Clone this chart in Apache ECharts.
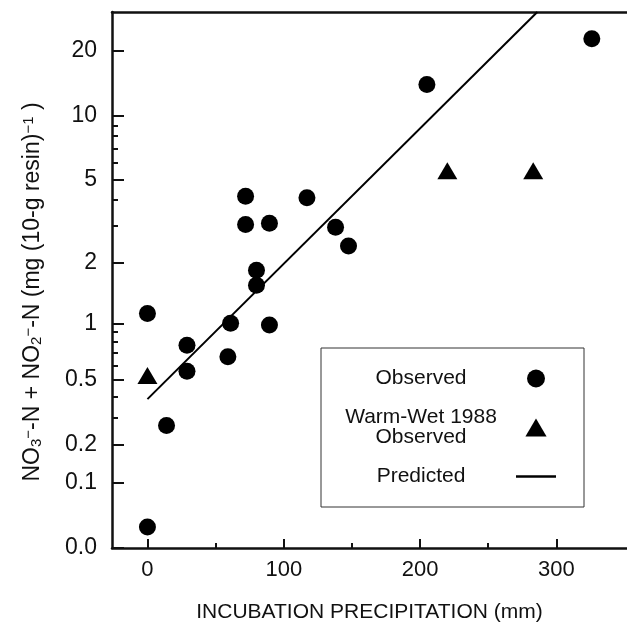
<!DOCTYPE html>
<html>
<head>
<meta charset="utf-8">
<script src="https://cdn.jsdelivr.net/npm/echarts@6/dist/echarts.min.js"></script>
<style>
  html, body { margin: 0; padding: 0; background: #fff; }
  #chart { width: 627px; height: 629px; }
</style>
</head>
<body>
<div id="chart"></div>
<script>
// observed points (incubation precipitation mm, NO3-N + NO2-N)
var obsX = [0, 0, 14, 29, 29, 59, 61, 72, 72, 80, 80, 89.5, 89.5, 117, 138, 147.5, 205, 326];
var obsY = [1.12, 0.025, 0.27, 0.77, 0.56, 0.67, 1.0, 4.17, 3.06, 1.84, 1.55, 3.1, 0.98, 4.1, 2.97, 2.41, 13.96, 22.8];
// warm-wet 1988
var wetX = [0, 220, 283];
var wetY = [0.53, 5.5, 5.5];
// predicted line ends
var predX = [0, 286];
var predY = [0.39, 30.4];

var yTicks = [0, 0.1, 0.2, 0.5, 1, 2, 5, 10, 20];
var yTickLabels = ['0.0', '0.1', '0.2', '0.5', '1', '2', '5', '10', '20'];
var yMinor = [0.3, 0.4, 0.6, 0.7, 0.8, 0.9, 3, 4, 6, 7, 8, 9];
var xTicks = [0, 100, 200, 300];
var xMinor = [50, 150, 250];

// axis is log10(y + 0.1)
function tf(v) { return Math.log10(v + 0.1); }
function pairs(xs, ys) {
  return xs.map(function (x, i) { return [x, tf(ys[i])]; });
}

var FONT = 'Liberation Sans';
var chart = echarts.init(document.getElementById('chart'));

var yMin = tf(0), yMax = tf(30.4);

var option = {
  animation: false,
  backgroundColor: '#fff',
  textStyle: { fontFamily: FONT },
  grid: { left: 112, top: 12, right: 0, bottom: 81 },
  xAxis: [{
    type: 'value', min: -26, max: 351.8,
    name: 'INCUBATION PRECIPITATION (mm)',
    nameLocation: 'middle', nameGap: 54,
    nameTextStyle: { fontFamily: FONT, fontSize: 21, color: '#111' },
    splitLine: { show: false },
    axisLine: { onZero: false, lineStyle: { color: '#111', width: 2.5 } },
    axisTick: { inside: true, length: 9, customValues: xTicks, lineStyle: { color: '#111', width: 2 } },
    axisLabel: { customValues: xTicks, margin: 11, fontSize: 22, color: '#111', fontFamily: FONT }
  }, {
    type: 'value', min: -26, max: 351.8, position: 'bottom',
    splitLine: { show: false }, axisLine: { show: false, onZero: false }, axisLabel: { show: false },
    axisTick: { inside: true, length: 5, customValues: xMinor, lineStyle: { color: '#111', width: 2 } }
  }, {
    type: 'value', min: -26, max: 351.8, position: 'top',
    splitLine: { show: false }, axisLabel: { show: false }, axisTick: { show: false },
    axisLine: { onZero: false, lineStyle: { color: '#111', width: 2.5 } }
  }],
  yAxis: [{
    type: 'value', min: yMin, max: yMax,
    splitLine: { show: false },
    axisLine: { onZero: false, lineStyle: { color: '#111', width: 2.5 } },
    axisTick: { inside: true, length: 12, customValues: yTicks.map(tf), lineStyle: { color: '#111', width: 2 } },
    axisLabel: {
      customValues: yTicks.map(tf), margin: 15, fontSize: 23, color: '#111', fontFamily: FONT,
      formatter: function (val) {
        var best = 0;
        for (var i = 0; i < yTicks.length; i++) {
          if (Math.abs(tf(yTicks[i]) - val) < Math.abs(tf(yTicks[best]) - val)) best = i;
        }
        return yTickLabels[best];
      }
    }
  }, {
    type: 'value', min: yMin, max: yMax, position: 'left',
    splitLine: { show: false }, axisLine: { show: false, onZero: false }, axisLabel: { show: false },
    axisTick: { inside: true, length: 6, customValues: yMinor.map(tf), lineStyle: { color: '#111', width: 2 } }
  }],
  legend: {
    left: 321, top: 348,
    orient: 'vertical', align: 'right',
    padding: [20, 28, 20, 10],
    itemGap: 18, itemWidth: 40, itemHeight: 18,
    borderColor: '#333', borderWidth: 1,
    selectedMode: false,
    symbolKeepAspect: true,
    data: [
      { name: 'Observed', icon: 'circle' },
      { name: 'Warm-Wet 1988\nObserved', icon: 'path://M10,0L20,17L0,17Z' },
      { name: 'Predicted', icon: 'path://M0,0H40V2.4H0Z' }
    ],
    itemStyle: { color: '#000' },
    formatter: function (name) {
      return name.split('\n').map(function (s) { return '{c|' + s + '}'; }).join('\n');
    },
    textStyle: {
      rich: { c: { width: 180, align: 'center', fontSize: 21, lineHeight: 20, color: '#111', fontFamily: FONT } }
    }
  },
  graphic: [{
    type: 'text', x: 33, y: 292, rotation: Math.PI / 2,
    style: {
      text: 'NO{sub|3}{sup|−}-N + NO{sub|2}{sup|−}-N (mg (10-g resin){sup|−1} )',
      align: 'center', verticalAlign: 'middle',
      font: '23px "Liberation Sans"', fill: '#111',
      rich: {
        sub: { fontSize: 15, verticalAlign: 'bottom', lineHeight: 12, fontFamily: FONT, fill: '#111' },
        sup: { fontSize: 15, verticalAlign: 'top', lineHeight: 12, fontFamily: FONT, fill: '#111' }
      }
    }
  }],
  series: [{
    name: 'Observed', type: 'scatter', symbol: 'circle', symbolSize: 17,
    itemStyle: { color: '#000', opacity: 1 },
    data: pairs(obsX, obsY)
  }, {
    name: 'Warm-Wet 1988\nObserved', type: 'scatter', symbol: 'triangle', symbolSize: [20, 17],
    itemStyle: { color: '#000', opacity: 1 },
    data: pairs(wetX, wetY)
  }, {
    name: 'Predicted', type: 'line', symbol: 'none',
    itemStyle: { color: '#000' },
    lineStyle: { color: '#000', width: 2 },
    data: pairs(predX, predY)
  }]
};
chart.setOption(option);
</script>
</body>
</html>
